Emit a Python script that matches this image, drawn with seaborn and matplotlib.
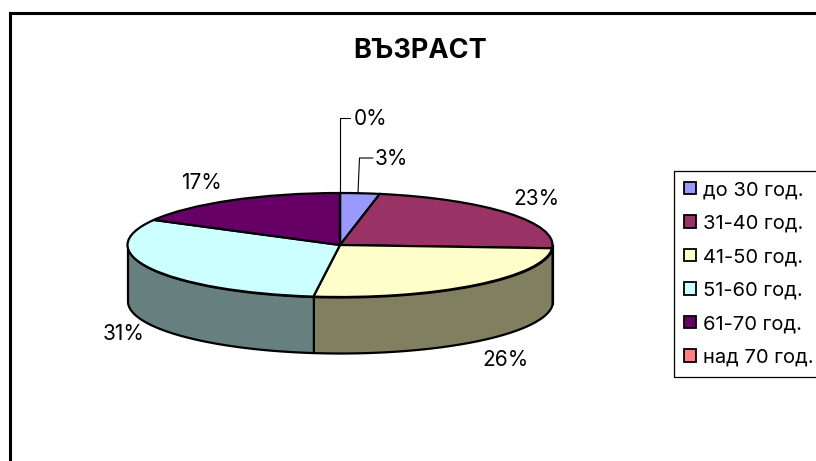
import numpy as np
import matplotlib
matplotlib.use("Agg")
import matplotlib.pyplot as plt
from matplotlib.patches import Patch
import seaborn as sns

title = "ВЪЗРАСТ"
categories = ["до 30 год.", "31-40 год.", "41-50 год.", "51-60 год.", "61-70 год.", "над 70 год."]
values = [3, 23, 26, 31, 17, 0]
top_colors = ["#9999FF", "#993366", "#FFFFCC", "#CCFFFF", "#660066", "#FF8080"]
side_colors = ["#666699", "#4D1A33", "#808060", "#668080", "#330033", "#804040"]

W, H = 816, 461

sns.set_theme(style="white")
plt.rcParams["font.family"] = ["Inter", "Liberation Sans", "DejaVu Sans"]

fig = plt.figure(figsize=(W / 100, H / 100), dpi=100, facecolor="white")

# frame axes works in pixels, only left and top of the border are visible
frame = fig.add_axes([10 / W, 0, (W - 10) / W, (H - 13) / H])
frame.set_xlim(10, W)
frame.set_ylim(H, 13)
frame.set_xticks([])
frame.set_yticks([])
for side in ["right", "bottom"]:
    frame.spines[side].set_visible(False)
for side in ["left", "top"]:
    frame.spines[side].set_linewidth(2.2)
    frame.spines[side].set_color("black")

frame.text(420.5, 51, title, fontsize=19.5, fontweight="bold", ha="center", va="center", color="black")

# pie axes is stretched to the ellipse of the top face
pie_left, pie_right, pie_top, pie_bottom = 127.5, 552.5, 193, 297
ax = fig.add_axes([pie_left / W, 1 - pie_bottom / H, (pie_right - pie_left) / W, (pie_bottom - pie_top) / H])
ax.patch.set_alpha(0)

depth = 56 / ((pie_bottom - pie_top) / 2)
shares = np.array(values) / sum(values)
edges = np.concatenate([[0], np.cumsum(shares)]) * 2 * np.pi

# side wall of the disc, only the front half shows
for i in range(len(values)):
    a0 = max(edges[i], np.pi / 2)
    a1 = min(edges[i + 1], 3 * np.pi / 2)
    if a1 <= a0:
        continue
    t = np.linspace(a0, a1, 80)
    ax.fill_between(np.sin(t), np.cos(t), np.cos(t) - depth, color=side_colors[i],
                    edgecolor="black", linewidth=1.6, clip_on=False, zorder=1)

wedges, _ = ax.pie(values, colors=top_colors, startangle=90, counterclock=False, radius=1,
                   wedgeprops={"edgecolor": "black", "linewidth": 1.6, "zorder": 2})
for w in wedges:
    w.set_clip_on(False)
ax.set_aspect("auto")
ax.set_xlim(-1, 1)
ax.set_ylim(-1, 1)

# percent labels
label_pos = [(391, 159), (536, 199), (506, 360), (124, 334), (201, 183), (371, 119)]
for v, (px, py) in zip(values, label_pos):
    frame.text(px, py, f"{v}%", fontsize=15, ha="center", va="center", color="black")

# leader lines for the two small slices
frame.plot([339.5, 339.5, 350], [193, 118, 118], color="black", lw=0.8)
frame.plot([358, 359.5, 373], [193, 158, 158], color="black", lw=0.8)

handles = [Patch(facecolor=c, edgecolor="black", linewidth=1.3) for c in top_colors]
leg = fig.legend(handles, categories, loc="upper left", bbox_to_anchor=(674 / W, 1 - 171 / H),
                 borderaxespad=0, fontsize=14.5, frameon=True, fancybox=False, edgecolor="black",
                 framealpha=1, handlelength=0.6, handleheight=0.6, handletextpad=0.36,
                 labelspacing=0.77, borderpad=0.5, labelcolor="black")
leg.get_frame().set_linewidth(0.9)

fig.savefig("out.png", dpi=100)
